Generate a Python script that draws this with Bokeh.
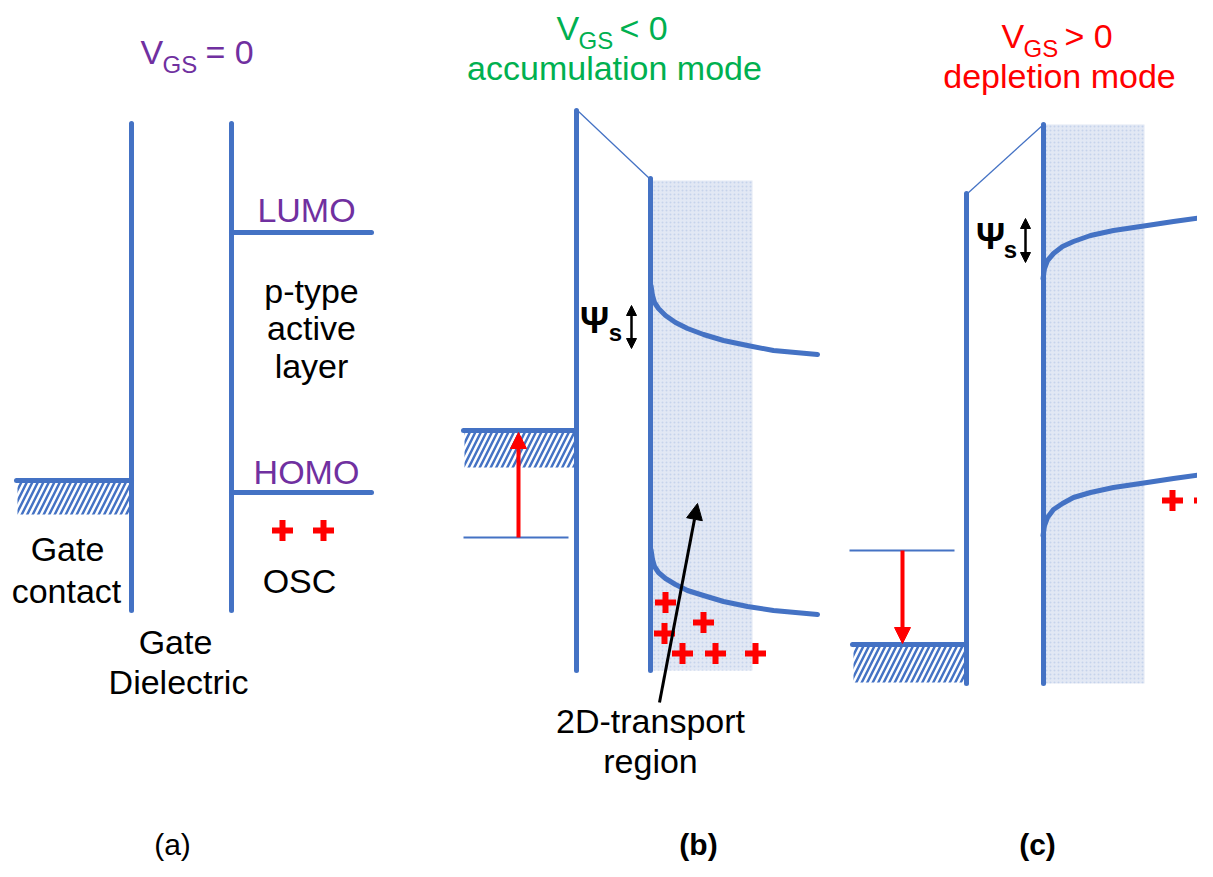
from bokeh.plotting import figure
from bokeh.models import Range1d, Arrow, NormalHead
from bokeh.core.properties import value
from bokeh.embed import file_html
from bokeh.resources import INLINE

BLUE = "#4472C4"
PURPLE = "#7030A0"
GREEN = "#00B050"
RED = "#FF0000"
FONT = value("Liberation Sans")

# ---------------- data (diagram geometry in picture units) ----------------
# thick vertical interfaces: x, y_top, y_bottom
vert_x = [131, 231, 576, 650, 966, 1043]
vert_top = [123, 123, 110, 178, 193, 124]
vert_bot = [610, 610, 670, 670, 683, 683]

# thin oblique lines (dielectric top)
diag_x0 = [577, 967]
diag_y0 = [110, 193]
diag_x1 = [649, 1043]
diag_y1 = [178, 124]

# metal Fermi levels (thick) : x0, x1, y
fermi_x0 = [16, 463, 852]
fermi_x1 = [131, 576, 966]
fermi_y = [480, 430, 644]
# hatched metal region bottoms
hatch_bottom = [514, 467, 682]

# thin reference levels
ref_x0 = [463, 849]
ref_x1 = [568, 954]
ref_y = [537, 550]

# flat LUMO/HOMO in (a)
flat_x0 = [231, 231]
flat_x1 = [371, 371]
flat_y = [232, 492]

# shaded OSC accumulation/depletion regions
shade_left = [652, 1045]
shade_right = [752, 1144]
shade_top = [180, 124]
shade_bottom = [670, 683]

# band bending curves
lumo_b_x = [650.5, 652, 654, 658, 665, 675, 687, 703, 723, 747, 773, 817]
lumo_b_y = [285, 295, 302, 308, 315, 322, 328, 334, 340, 345, 350, 354]
homo_b_x = [650.5, 652, 654, 658, 665, 675, 687, 703, 723, 747, 773, 817]
homo_b_y = [549, 559, 566, 572, 578, 584, 590, 595, 601, 606, 610, 614]
lumo_c_x = [1042.5, 1044, 1047, 1053, 1062, 1073, 1090, 1113, 1140, 1173, 1210]
lumo_c_y = [278, 268, 260, 253, 246, 241, 235, 230, 226, 221, 216]
homo_c_x = [1042.5, 1044, 1047, 1053, 1062, 1073, 1090, 1113, 1140, 1173, 1210]
homo_c_y = [535, 525, 517, 509, 503, 497, 492, 487, 483, 478, 473]

# holes
plus_x = [282, 323, 665, 703, 664, 682, 715, 755, 1172, 1204]
plus_y = [530, 530, 602, 622, 633, 653, 653, 653, 500, 500]

# ---------------- figure ----------------
p = figure(width=1197, height=861, x_range=Range1d(0, 1197), y_range=Range1d(861, 0),
           output_backend="svg", toolbar_location=None, min_border=0,
           x_axis_type=None, y_axis_type=None)
p.grid.visible = False
p.outline_line_color = None
p.background_fill_color = "white"
p.border_fill_color = "white"

# shaded regions
p.quad(left=shade_left, right=shade_right, top=shade_top, bottom=shade_bottom,
       fill_color="#E2E8F4", line_color=None,
       hatch_pattern="dot", hatch_color="#C5D3EC", hatch_scale=4, hatch_weight=1)

# hatched metal
p.quad(left=[a + 1 for a in fermi_x0], right=[b - 2 for b in fermi_x1],
       top=fermi_y, bottom=hatch_bottom, fill_color="white", line_color=None,
       hatch_pattern="/", hatch_color=BLUE, hatch_weight=2.5, hatch_scale=11)

# thick verticals
p.segment(x0=vert_x, y0=vert_top, x1=vert_x, y1=vert_bot, line_color=BLUE,
          line_width=5, line_cap="round")
# thin diagonals
p.segment(x0=diag_x0, y0=diag_y0, x1=diag_x1, y1=diag_y1, line_color=BLUE,
          line_width=1.3)
# Fermi levels
p.segment(x0=fermi_x0, y0=fermi_y, x1=fermi_x1, y1=fermi_y, line_color=BLUE,
          line_width=5, line_cap="round")
# thin reference levels
p.segment(x0=ref_x0, y0=ref_y, x1=ref_x1, y1=ref_y, line_color=BLUE, line_width=2)
# flat bands
p.segment(x0=flat_x0, y0=flat_y, x1=flat_x1, y1=flat_y, line_color=BLUE,
          line_width=5, line_cap="round")

# curved bands
for cx, cy in [(lumo_b_x, lumo_b_y), (homo_b_x, homo_b_y),
               (lumo_c_x, lumo_c_y), (homo_c_x, homo_c_y)]:
    p.line(cx, cy, line_color=BLUE, line_width=5, line_cap="round", line_join="round")

# holes
p.scatter(plus_x, plus_y, marker="cross", size=21, line_width=6, line_color=RED)

# arrows
p.add_layout(Arrow(end=NormalHead(size=16, fill_color=RED, line_color=RED),
                   x_start=518, y_start=537, x_end=518, y_end=432,
                   line_color=RED, line_width=4))
p.add_layout(Arrow(end=NormalHead(size=16, fill_color=RED, line_color=RED),
                   x_start=902, y_start=550, x_end=902, y_end=643,
                   line_color=RED, line_width=4))
p.add_layout(Arrow(end=NormalHead(size=16, fill_color="black", line_color="black"),
                   x_start=659, y_start=702, x_end=697, y_end=503,
                   line_color="black", line_width=3))
for ax, ay0, ay1 in [(631, 305, 348), (1025, 218, 262)]:
    p.add_layout(Arrow(start=NormalHead(size=10, fill_color="black", line_color="black"),
                       end=NormalHead(size=10, fill_color="black", line_color="black"),
                       x_start=ax, y_start=ay0, x_end=ax, y_end=ay1,
                       line_color="black", line_width=2.5))

def txt(x, y, s, color="black", size=34, align="center", style="normal"):
    # y is the wanted baseline; the svg text is drawn a bit lower, compensate
    p.text(x=[x], y=[y - 0.33 * size], text=[s], text_color=color, text_font=FONT,
           text_font_size=f"{size}px", text_align=align, text_baseline="alphabetic",
           text_font_style=style)

# titles
txt(140, 63, "V", PURPLE, align="left")
txt(162, 72, "GS", PURPLE, size=24, align="left")
txt(205, 63, "= 0", PURPLE, align="left")

txt(556, 39, "V", GREEN, align="left")
txt(578, 48, "GS", GREEN, size=24, align="left")
txt(619, 39, "< 0", GREEN, align="left")
txt(614, 79, "accumulation mode", GREEN)

txt(1001, 47, "V", RED, align="left")
txt(1023, 56, "GS", RED, size=24, align="left")
txt(1064, 47, "> 0", RED, align="left")
txt(1059, 87, "depletion mode", RED)

# panel (a) labels
txt(306, 221, "LUMO", PURPLE)
txt(306, 483, "HOMO", PURPLE)
txt(311, 302, "p-type")
txt(311, 339, "active")
txt(311, 377, "layer")
txt(299, 592, "OSC")
txt(67, 560, "Gate")
txt(66, 602, "contact")
txt(175, 653, "Gate")
txt(178, 693, "Dielectric")

# panel (b)/(c) labels
txt(650, 732, "2D-transport")
txt(650, 772, "region")
txt(594, 332, "Ψ", size=36, style="bold")
txt(615, 340, "s", size=24, style="bold")
txt(990, 248, "Ψ", size=36, style="bold")
txt(1010, 257, "s", size=24, style="bold")

# panel letters
txt(172, 854, "(a)", size=30)
txt(698, 854, "(b)", size=30, style="bold")
txt(1037, 854, "(c)", size=30, style="bold")

open("out.html", "w").write(file_html(p, INLINE))
